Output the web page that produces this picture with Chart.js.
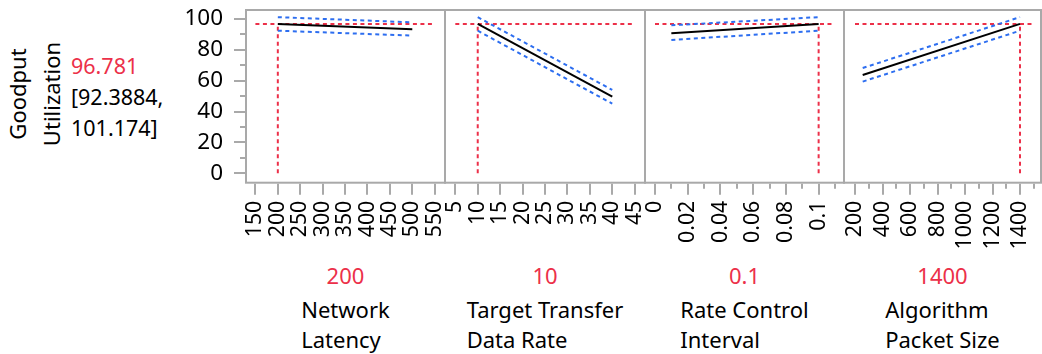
<!DOCTYPE html>
<html>
<head>
<meta charset="utf-8">
<script src="https://cdn.jsdelivr.net/npm/chart.js@4.4.1/dist/chart.umd.min.js"></script>
<style>
html,body{margin:0;padding:0;background:#fff;}
body{width:1042px;height:354px;position:relative;overflow:hidden;font-family:'Noto Sans',sans-serif;font-size:22px;color:#000;}
canvas{position:absolute;top:0;}
.resp{position:absolute;left:34px;top:94px;width:0;height:0;}
.resp div{position:absolute;left:-75px;top:-34px;width:150px;line-height:34px;text-align:center;transform:rotate(-90deg);white-space:nowrap;}
.pred{position:absolute;left:71px;top:49.5px;line-height:31px;white-space:nowrap;font-size:21.5px;}
.red{color:#ec3049;}
.flab{position:absolute;top:260px;text-align:center;white-space:nowrap;}
.flab .val{line-height:30px;}
.flab .nm{display:inline-block;text-align:left;line-height:30px;margin-top:4px;}
</style>
</head>
<body>
<div class="resp"><div id="respName"></div></div>
<div class="pred" id="pred"></div>
<div id="labels"></div>
<script>
// ---------------- data ----------------
const responseName = ["Goodput", "Utilization"];
const predicted = 96.781;
const predLow = 92.3884;
const predHigh = 101.174;

const factorNames = [["Network", "Latency"], ["Target Transfer", "Data Rate"], ["Rate Control", "Interval"], ["Algorithm", "Packet Size"]];
const currentX = [200, 10, 0.1, 1400];
const currentXLabels = ["200", "10", "0.1", "1400"];

// profile traces (end points of each factor's profile)
const latencyX = [200, 500];
const latencyPred = [96.781, 93.3];
const latencyUpper = [101.174, 97.8];
const latencyLower = [92.388, 89.2];

const rateX = [10, 40];
const ratePred = [96.781, 49.7];
const rateUpper = [101.174, 54.0];
const rateLower = [92.388, 45.1];

const intervalX = [0.01, 0.1];
const intervalPred = [90.7, 96.781];
const intervalUpper = [95.9, 101.174];
const intervalLower = [86.4, 92.388];

const packetX = [256, 1400];
const packetPred = [63.7, 96.781];
const packetUpper = [68.2, 101.174];
const packetLower = [59.4, 92.388];

// reference (crosshair) horizontal extents per panel
const refSpan = [[150, 550], [5, 45], [0, 0.11], [200, 1500]];

// tick values and labels
const latencyTicks = [150, 200, 250, 300, 350, 400, 450, 500, 550];
const latencyTickLabels = ["150", "200", "250", "300", "350", "400", "450", "500", "550"];
const latencyMinor = [];
const rateTicks = [5, 10, 15, 20, 25, 30, 35, 40, 45];
const rateTickLabels = ["5", "10", "15", "20", "25", "30", "35", "40", "45"];
const rateMinor = [];
const intervalTicks = [0, 0.02, 0.04, 0.06, 0.08, 0.1];
const intervalTickLabels = ["0", "0.02", "0.04", "0.06", "0.08", "0.1"];
const intervalMinor = [0.01, 0.03, 0.05, 0.07, 0.09, 0.11];
const packetTicks = [200, 400, 600, 800, 1000, 1200, 1400];
const packetTickLabels = ["200", "400", "600", "800", "1000", "1200", "1400"];
const packetMinor = [300, 500, 700, 900, 1100, 1300, 1500];
const yTicks = [0, 20, 40, 60, 80, 100];
const yTickLabels = ["0", "20", "40", "60", "80", "100"];
const yMinor = [10, 30, 50, 70, 90];

// axis limits
const xLimits = [[129, 573], [2.7, 47.3], [-0.0061, 0.1155], [120, 1552.7]];
const yLimits = [-6.1, 105.8];

// ---------------- layout & style ----------------
const RED = '#ec3049', BLUE = '#2d6ef0', FRAME = '#a9a9a9';
const PANEL_EDGES = [246, 445, 645, 844, 1041];
const PLOT_TOP = 10, PLOT_BOTTOM = 182.7, CANVAS_H = 262;
const Y_AXIS_W = 246;
Chart.defaults.font.family = "'Noto Sans', sans-serif";
Chart.defaults.font.size = 21.3;
Chart.defaults.color = '#000';

document.getElementById('respName').innerHTML = responseName.join('<br>');
document.getElementById('pred').innerHTML =
  '<span class="red">' + predicted + '</span><br>[' + predLow + ',<br>' + predHigh + ']';

const panelData = [
  {x: latencyX, p: latencyPred, u: latencyUpper, l: latencyLower, t: latencyTicks, tl: latencyTickLabels, m: latencyMinor},
  {x: rateX, p: ratePred, u: rateUpper, l: rateLower, t: rateTicks, tl: rateTickLabels, m: rateMinor},
  {x: intervalX, p: intervalPred, u: intervalUpper, l: intervalLower, t: intervalTicks, tl: intervalTickLabels, m: intervalMinor},
  {x: packetX, p: packetPred, u: packetUpper, l: packetLower, t: packetTicks, tl: packetTickLabels, m: packetMinor}
];

function makeTicks(major, labels, minor) {
  const t = major.map((v, i) => ({value: v, lbl: labels[i], minor: false}));
  minor.forEach(v => t.push({value: v, lbl: '', minor: true}));
  t.sort((a, b) => a.value - b.value);
  return t;
}

const frameTicks = {
  id: 'frameTicks',
  afterDraw(chart) {
    const {ctx, chartArea: a} = chart;
    ctx.save();
    ctx.strokeStyle = FRAME;
    ctx.lineWidth = 2;
    ctx.strokeRect(a.left, a.top, a.right - a.left, a.bottom - a.top);
    ctx.beginPath();
    const xs = chart.scales.x;
    xs.ticks.forEach(t => {
      const px = Math.round(xs.getPixelForValue(t.value));
      ctx.moveTo(px, a.bottom + 1);
      ctx.lineTo(px, a.bottom + (t.minor ? 6 : 12));
    });
    const ys = chart.scales.y;
    if (ys.options.display) {
      ys.ticks.forEach(t => {
        const py = Math.round(ys.getPixelForValue(t.value));
        ctx.moveTo(a.left - 1, py);
        ctx.lineTo(a.left - (t.minor ? 6 : 12), py);
      });
    }
    ctx.stroke();
    ctx.restore();
  }
};

const noPad = () => ({left: 0, top: 0, right: 0, bottom: 0});
const yTickObjs = makeTicks(yTicks, yTickLabels, yMinor);
function pts(xs, ys) { return xs.map((x, k) => ({x: x, y: ys[k]})); }

function buildChart(i, d, cv, first) {
  const xTickObjs = makeTicks(d.t, d.tl, d.m);
  const dash = [4, 3.5];
  return new Chart(cv, {
    type: 'line',
    data: {
      datasets: [
        {data: pts(d.x, d.p), borderColor: '#000', borderWidth: 2, order: 0},
        {data: pts(d.x, d.u), borderColor: BLUE, borderWidth: 2, borderDash: dash, order: 1},
        {data: pts(d.x, d.l), borderColor: BLUE, borderWidth: 2, borderDash: dash, order: 1},
        {data: pts(refSpan[i], [predicted, predicted]), borderColor: RED, borderWidth: 2, borderDash: dash, order: 2},
        {data: pts([currentX[i], currentX[i]], [0, predicted]), borderColor: RED, borderWidth: 2, borderDash: dash, order: 2}
      ]
    },
    options: {
      responsive: false,
      animation: false,
      devicePixelRatio: 1,
      layout: {padding: {top: PLOT_TOP, left: first ? 0 : 2, right: 2, bottom: 0}},
      plugins: {legend: {display: false}, tooltip: {enabled: false}},
      elements: {point: {radius: 0}, line: {tension: 0, borderCapStyle: 'butt', fill: false}},
      scales: {
        x: {
          type: 'linear', min: xLimits[i][0], max: xLimits[i][1],
          afterBuildTicks: s => { s.ticks = xTickObjs.map(t => Object.assign({}, t)); },
          ticks: {autoSkip: false, maxRotation: 90, minRotation: 90, padding: 18,
                  callback: (v, idx, ticks) => ticks[idx].lbl},
          grid: {drawOnChartArea: false, drawTicks: false},
          border: {display: false},
          afterFit: s => { s.height = CANVAS_H - PLOT_BOTTOM; s.paddingLeft = 0; s.paddingRight = 0; s.getPadding = noPad; }
        },
        y: {
          type: 'linear', display: first, min: yLimits[0], max: yLimits[1],
          afterBuildTicks: s => { s.ticks = yTickObjs.map(t => Object.assign({}, t)); },
          ticks: {autoSkip: false, padding: 23, font: {size: 22.5},
                  callback: (v, idx, ticks) => ticks[idx].lbl},
          grid: {drawOnChartArea: false, drawTicks: false},
          border: {display: false},
          afterFit: s => { s.width = first ? Y_AXIS_W : 0; s.paddingTop = 0; s.paddingBottom = 0; s.getPadding = noPad; }
        }
      }
    },
    plugins: [frameTicks]
  });
}

panelData.forEach((d, i) => {
  const first = i === 0;
  const left = PANEL_EDGES[i], right = PANEL_EDGES[i + 1];
  let canvasLeft = first ? 0 : left - 2;
  let w = right + 2 - canvasLeft;
  let canvasTop = 0, h = CANVAS_H;
  let cv, ch;
  for (let k = 0; k < 4; k++) {
    cv = document.createElement('canvas');
    cv.width = w; cv.height = h;
    cv.style.left = canvasLeft + 'px';
    cv.style.top = canvasTop + 'px';
    cv.style.width = w + 'px';
    cv.style.height = h + 'px';
    document.body.appendChild(cv);
    ch = buildChart(i, d, cv, first);
    const a = ch.chartArea;
    const dl = Math.round(left - (canvasLeft + a.left));
    const dr = Math.round(right - (canvasLeft + a.right));
    const dt = Math.round(PLOT_TOP - (canvasTop + a.top));
    const db = Math.round(PLOT_BOTTOM - (canvasTop + a.bottom));
    if (dl === 0 && dr === 0 && dt === 0 && db === 0) break;
    if (k === 3) break;
    ch.destroy();
    cv.remove();
    canvasLeft += dl; w += dr - dl;
    canvasTop += dt; h += db - dt;
  }

  const lab = document.createElement('div');
  lab.className = 'flab';
  lab.style.left = left + 'px';
  lab.style.width = (right - left) + 'px';
  lab.innerHTML = '<div class="val red">' + currentXLabels[i] + '</div><div class="nm">' +
    factorNames[i].join('<br>') + '</div>';
  document.getElementById('labels').appendChild(lab);
});
</script>
</body>
</html>
